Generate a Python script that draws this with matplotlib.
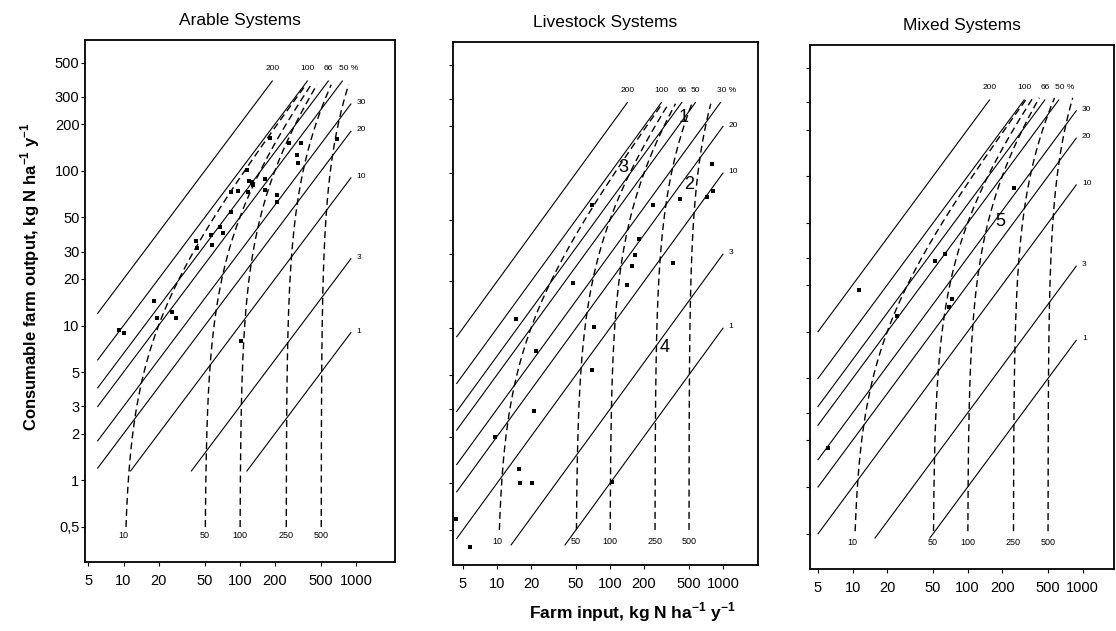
import numpy as np
import matplotlib
matplotlib.use("Agg")
import matplotlib.pyplot as plt

plt.rcParams['font.family'] = ['Liberation Sans', 'DejaVu Sans']
plt.rcParams['mathtext.fontset'] = 'custom'
plt.rcParams['mathtext.rm'] = 'Liberation Sans'
plt.rcParams['mathtext.bf'] = 'Liberation Sans:bold'

# N use efficiency lines (output/input, %) and N surplus curves (input - output)
efficiency = [200, 100, 66, 50, 30, 20, 10, 3, 1]
surplus = [10, 50, 100, 250, 500]

x_ticks = [5, 10, 20, 50, 100, 200, 500, 1000]
y_ticks = [0.5, 1, 2, 3, 5, 10, 20, 30, 50, 100, 200, 300, 500]
y_ticklabels = ["0,5", "1", "2", "3", "5", "10", "20", "30", "50", "100", "200", "300", "500"]

# farm input / consumable output, kg N ha-1 y-1
arable_in = [182, 262, 337, 309, 313, 687, 115, 120, 126, 130, 166, 166, 118, 96, 84,
             207, 207, 84, 68, 56, 71, 58, 42, 43, 18.2, 19.5, 26.3, 28, 9.1, 10, 103]
arable_out = [163, 151, 152, 127, 113, 161, 101, 86, 84, 81, 88, 75, 73, 74, 73,
              70, 63, 54, 43.5, 38.5, 39.5, 33, 35, 31.6, 14.5, 11.2, 12.3, 11.2, 9.4, 9.0, 8.0]

livestock_in = [68.9, 241, 416, 804, 717, 810, 182, 166, 156, 363, 142, 47.3, 14.7, 72.6,
                22.1, 68.9, 21.4, 9.6, 15.7, 16, 20.3, 105, 4.3, 5.8]
livestock_out = [62, 62, 67.6, 115, 70, 77, 37.3, 29.6, 25.1, 26.4, 19.1, 19.6, 11.4, 10.2,
                 7.1, 5.35, 2.92, 2.0, 1.23, 1.01, 1.01, 1.02, 0.59, 0.39]

mixed_in = [11.4, 52, 63.6, 253, 72.7, 69.3, 24.3, 6.07]
mixed_out = [18.6, 28.7, 31.6, 84, 16.3, 14.5, 12.6, 1.78]

# group labels drawn in the panels
livestock_groups = ["1", "3", "2", "4"]
livestock_group_in = [445, 131, 500, 307]
livestock_group_out = [227, 108, 84, 7.5]
mixed_groups = ["5"]
mixed_group_in = [191]
mixed_group_out = [51]


def draw_panel(ax, title, x, y, xlim, box, dash_span, dash_label_y, show_ylabels):
    xmin, ymin, xmax, ymax = box

    # efficiency lines
    top_idx = [i for i, e in enumerate(efficiency) if min(xmax, ymax / (e / 100)) * e / 100 >= ymax * 0.999]
    for i, e in enumerate(efficiency):
        r = e / 100
        x0 = max(xmin, ymin / r)
        x1 = min(xmax, ymax / r)
        ax.plot([x0, x1], [r * x0, r * x1], color="black", lw=0.8)
        if i in top_idx:
            if i == top_idx[-1]:
                ax.text(x1 * 0.93, ymax * 1.14, "%d %%" % e, ha="left", va="bottom", fontsize=6)
            else:
                ax.text(x1, ymax * 1.14, "%d" % e, ha="center", va="bottom", fontsize=6)
        else:
            ax.text(x1 * 1.12, r * x1 * 1.02, "%d" % e, ha="left", va="center", fontsize=6)

    # surplus curves
    out = np.geomspace(dash_span[0], dash_span[1], 300)
    for s in surplus:
        ax.plot(out + s, out, color="black", lw=1.0, linestyle=(0, (5, 3)))
        ax.text(s, dash_label_y, "%d" % s, ha="center", va="center", fontsize=6.5)

    ax.plot(x, y, "s", color="black", markersize=3.2, markeredgewidth=0)

    ax.set_xscale("log")
    ax.set_yscale("log")
    ax.set_xlim(*xlim)
    ax.set_ylim(0.297, 700)
    ax.set_xticks(x_ticks)
    ax.set_xticklabels([str(t) for t in x_ticks])
    ax.set_yticks(y_ticks)
    if show_ylabels:
        ax.set_yticklabels(y_ticklabels)
    else:
        ax.set_yticklabels([])
    ax.minorticks_off()
    ax.tick_params(axis="x", direction="out", length=3, width=0.8, labelsize=10.5, pad=6)
    ax.tick_params(axis="y", direction="out", length=3, width=0.8, labelsize=10.5, pad=1)
    for sp in ax.spines.values():
        sp.set_linewidth(1.3)
    ax.set_title(title, fontsize=12.5, pad=11)


fig = plt.figure(figsize=(11.16, 6.31), dpi=100)
ax1 = fig.add_axes([0.0762, 0.1094, 0.2778, 0.8273])
ax2 = fig.add_axes([0.4059, 0.1046, 0.2733, 0.8288])
ax3 = fig.add_axes([0.7258, 0.0983, 0.2724, 0.8304])

draw_panel(ax1, "Arable Systems", arable_in, arable_out, (4.67, 2157),
           (6, 1.15, 900, 380), (0.5, 360), 0.44, True)
draw_panel(ax2, "Livestock Systems", livestock_in, livestock_out, (4.08, 2041),
           (4.4, 0.4, 1000, 285), (0.5, 280), 0.42, False)
draw_panel(ax3, "Mixed Systems", mixed_in, mixed_out, (4.26, 1874),
           (5, 0.47, 880, 310), (0.52, 320), 0.44, False)

for t, gx, gy in zip(livestock_groups, livestock_group_in, livestock_group_out):
    ax2.text(gx, gy, t, ha="center", va="center", fontsize=13)
for t, gx, gy in zip(mixed_groups, mixed_group_in, mixed_group_out):
    ax3.text(gx, gy, t, ha="center", va="center", fontsize=13)

fig.text(30 / 1116, 1 - 277 / 631, r"Consumable farm output, kg N ha$^{\mathbf{-1}}$ y$^{\mathbf{-1}}$",
         rotation=90, ha="center", va="center", fontsize=12, fontweight="bold")
fig.text(632 / 1116, 1 - 612 / 631, r"Farm input, kg N ha$^{\mathbf{-1}}$ y$^{\mathbf{-1}}$",
         ha="center", va="center", fontsize=12.5, fontweight="bold")

plt.savefig("out.png", dpi=100)
plt.close()
